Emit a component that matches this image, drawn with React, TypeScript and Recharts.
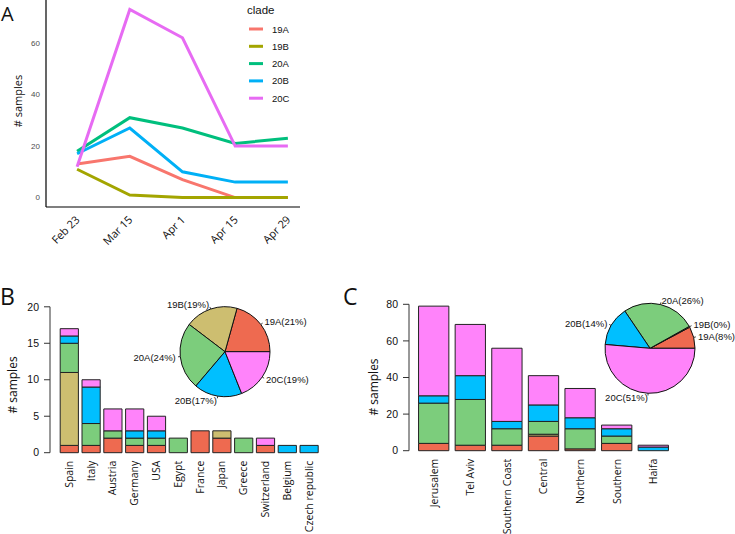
import React from 'react';
import { LineChart, Line, XAxis, YAxis, BarChart, Bar, PieChart, Pie, Cell, Label } from 'recharts';

// ---------- shared ----------
const cladeNames = ['19A', '19B', '20A', '20B', '20C'];
const lineColors = ['#F8766D', '#A3A500', '#00BF7D', '#00B0F6', '#E76BF3'];
const barColors = ['#EE6A50', '#CDBE70', '#7CCD7C', '#00BFFF', '#FF83FA'];

// ---------- panel A ----------
const timeLabels = ['Feb 23', 'Mar 15', 'Apr 1', 'Apr 15', 'Apr 29'];
const line19A = [13, 16, 7, 0, 0];
const line19B = [11, 1, 0, 0, 0];
const line20A = [18, 31, 27, 21, 23];
const line20B = [17, 27, 10, 6, 6];
const line20C = [12, 73, 62, 20, 20];
const lineTicksY = [0, 20, 40, 60];

// ---------- panel B ----------
const countries = ['Spain', 'Italy', 'Austria', 'Germany', 'USA', 'Egypt', 'France', 'Japan', 'Greece', 'Switzerland', 'Belgium', 'Czech republic'];
const country19A = [1, 1, 2, 1, 1, 0, 3, 2, 0, 1, 0, 0];
const country19B = [10, 0, 0, 0, 0, 0, 0, 1, 0, 0, 0, 0];
const country20A = [4, 3, 1, 1, 1, 2, 0, 0, 2, 0, 0, 0];
const country20B = [1, 5, 0, 1, 1, 0, 0, 0, 0, 0, 1, 1];
const country20C = [1, 1, 3, 3, 2, 0, 0, 0, 0, 1, 0, 0];
const countryTicksY = [0, 5, 10, 15, 20];

// ---------- panel C ----------
const regions = ['Jerusalem', 'Tel Aviv', 'Southern Coast', 'Central', 'Northern', 'Southern', 'Haifa'];
const region19A = [4, 3, 3, 8, 1, 4, 0];
const region19B = [0, 0, 0, 1, 0, 0, 0];
const region20A = [22, 25, 9, 7, 11, 4, 0];
const region20B = [4, 13, 4, 9, 6, 4, 2];
const region20C = [49, 28, 40, 16, 16, 2, 1];
const regionTicksY = [0, 20, 40, 60, 80];

// ---------- derived tables ----------
const lineSeries = [line19A, line19B, line20A, line20B, line20C];
const lineData = timeLabels.map((t, i) => {
  const row: any = { idx: i, label: t };
  cladeNames.forEach((c, k) => (row[c] = lineSeries[k][i]));
  return row;
});

const countrySeries = [country19A, country19B, country20A, country20B, country20C];
const countryData = countries.map((n, i) => {
  const row: any = { name: n };
  cladeNames.forEach((c, k) => (row[c] = countrySeries[k][i]));
  return row;
});
const countryPie = cladeNames.map((c, k) => ({ name: c, value: countrySeries[k].reduce((a, b) => a + b, 0) }));

const regionSeries = [region19A, region19B, region20A, region20B, region20C];
const regionData = regions.map((n, i) => {
  const row: any = { name: n };
  cladeNames.forEach((c, k) => (row[c] = regionSeries[k][i]));
  return row;
});
const regionPie = cladeNames.map((c, k) => ({ name: c, value: regionSeries[k].reduce((a, b) => a + b, 0) }));

const SANS = '"Liberation Sans", Arial, sans-serif';
const HUM = '"Open Sans", "Liberation Sans", sans-serif';

const AngledTick = (props: any) => {
  const { x, y, payload } = props;
  const ax = x - 2;
  const ay = y + 8;
  return (
    <text x={ax} y={ay} dy="0.7em" transform={`rotate(-45, ${ax}, ${ay})`} textAnchor="end" fontSize={11} fontFamily={HUM} fill="#111">
      {timeLabels[payload.value]}
    </text>
  );
};

const VerticalTick = (props: any) => {
  const { x, y, payload } = props;
  const ay = y + 8;
  return (
    <text x={x} y={ay} dy="0.35em" transform={`rotate(-90, ${x}, ${ay})`} textAnchor="end" fontSize={10.5} fontFamily={HUM} fill="#111">
      {payload.value}
    </text>
  );
};

const axisTitle = (x: number, y: number, size: number) => () => (
  <text x={x} y={y} transform={`rotate(-90, ${x}, ${y})`} textAnchor="middle" dominantBaseline="central" fontSize={size} fontFamily={HUM} fill="#111">
    # samples
  </text>
);

const RAD = Math.PI / 180;
const makePieLabel = (total: number) => (props: any) => {
  const { cx, cy, midAngle, outerRadius, value } = props;
  const name = props.name ?? props.payload?.name;
  const c = Math.cos(-midAngle * RAD);
  const s = Math.sin(-midAngle * RAD);
  const r = outerRadius;
  const pct = Math.round((value / total) * 100);
  return (
    <g>
      <line x1={cx + r * c} y1={cy + r * s} x2={cx + r * 1.05 * c} y2={cy + r * 1.05 * s} stroke="#111" strokeWidth={0.8} />
      <text x={cx + r * 1.1 * c} y={cy + r * 1.1 * s} textAnchor={c < 0 ? 'end' : 'start'} dominantBaseline="central" fontSize={9.5} fontFamily={SANS} fill="#111">
        {`${name}(${pct}%)`}
      </text>
    </g>
  );
};

const countryTotal = countryPie.reduce((a, b) => a + b.value, 0);
const regionTotal = regionPie.reduce((a, b) => a + b.value, 0);

const abs = (left: number, top: number): React.CSSProperties => ({ position: 'absolute', left, top });

export default function App() {
  return (
    <div style={{ position: 'absolute', left: 0, top: 0, width: 735, height: 534, background: '#fff', overflow: 'hidden' }}>
      {/* Panel A */}
      <div style={abs(0, 0)}>
        <LineChart width={330} height={260} data={lineData} margin={{ top: 0, right: 30, bottom: 0, left: 0 }}>
          <XAxis
            dataKey="idx"
            type="number"
            domain={[-0.59, 4.23]}
            ticks={[0, 1, 2, 3, 4]}
            allowDataOverflow
            height={53}
            interval={0}
            tick={<AngledTick />}
            tickLine={false}
            tickSize={0}
            tickMargin={0}
            axisLine={{ stroke: '#000', strokeWidth: 1.2 }}
          />
          <YAxis
            type="number"
            domain={[-3.65, 76.65]}
            ticks={lineTicksY}
            allowDataOverflow
            width={46}
            tickLine={false}
            tickSize={0}
            tickMargin={6}
            tick={{ fill: '#4d4d4d', fontSize: 8, fontFamily: SANS }}
            axisLine={{ stroke: '#000', strokeWidth: 1.2 }}
          >
            <Label content={axisTitle(17, 101, 11)} />
          </YAxis>
          {cladeNames.map((c, i) => (
            <Line key={c} type="linear" dataKey={c} stroke={lineColors[i]} strokeWidth={3} dot={false} isAnimationActive={false} />
          ))}
        </LineChart>
      </div>
      {/* Legend A */}
      <svg style={abs(0, 0)} width={330} height={110}>
        <text x={247} y={14} fontSize={11.5} fontFamily={SANS} fill="#111">clade</text>
        {cladeNames.map((c, i) => (
          <g key={c}>
            <line x1={249} x2={263} y1={29 + i * 17.3} y2={29 + i * 17.3} stroke={lineColors[i]} strokeWidth={3} />
            <text x={272} y={29 + i * 17.3} dominantBaseline="central" fontSize={9.5} fontFamily={SANS} fill="#111">{c}</text>
          </g>
        ))}
      </svg>

      {/* Panel B */}
      <div style={abs(0, 290)}>
        <BarChart width={330} height={244} data={countryData} margin={{ top: 16.8, right: 2, bottom: 0, left: 0 }} barSize={18.2}>
          <XAxis
            dataKey="name"
            height={81.3}
            padding={{ left: 8.2, right: 8.2 }}
            interval={0}
            tick={<VerticalTick />}
            tickLine={false}
            axisLine={false}
            tickSize={0}
            tickMargin={0}
          />
          <YAxis
            type="number"
            domain={[0, 20]}
            ticks={countryTicksY}
            width={50}
            tickSize={6}
            tickMargin={5}
            tick={{ fill: '#111', fontSize: 10.5, fontFamily: SANS }}
            tickLine={{ stroke: '#333' }}
            axisLine={{ stroke: '#333' }}
          >
            <Label content={axisTitle(12, 95, 12)} />
          </YAxis>
          {cladeNames.map((c, i) => (
            <Bar key={c} dataKey={c} stackId="s" fill={barColors[i]} stroke="#222" strokeWidth={1} isAnimationActive={false} />
          ))}
        </BarChart>
      </div>
      <div style={abs(120, 285)}>
        <PieChart width={210} height={135} margin={{ top: 0, right: 0, bottom: 0, left: 0 }}>
          <Pie
            data={countryPie}
            dataKey="value"
            nameKey="name"
            cx={105}
            cy={66.7}
            outerRadius={45}
            startAngle={0}
            endAngle={360}
            stroke="#111"
            strokeWidth={1}
            labelLine={false}
            label={makePieLabel(countryTotal)}
            isAnimationActive={false}
          >
            {countryPie.map((d, i) => (
              <Cell key={d.name} fill={barColors[i]} />
            ))}
          </Pie>
        </PieChart>
      </div>

      {/* Panel C */}
      <div style={abs(330, 290)}>
        <BarChart width={405} height={244} data={regionData} margin={{ top: 14.3, right: 56.7, bottom: 0, left: 0 }} barSize={30.3}>
          <XAxis
            dataKey="name"
            height={83.3}
            padding={{ left: 6.55, right: 6.55 }}
            interval={0}
            tick={<VerticalTick />}
            tickLine={false}
            axisLine={false}
            tickSize={0}
            tickMargin={0}
          />
          <YAxis
            type="number"
            domain={[0, 80]}
            ticks={regionTicksY}
            width={79}
            tickSize={6}
            tickMargin={5}
            tick={{ fill: '#111', fontSize: 10.5, fontFamily: SANS }}
            tickLine={{ stroke: '#333' }}
            axisLine={{ stroke: '#333' }}
          >
            <Label content={axisTitle(43, 97, 12)} />
          </YAxis>
          {cladeNames.map((c, i) => (
            <Bar key={c} dataKey={c} stackId="s" fill={barColors[i]} stroke="#222" strokeWidth={1} isAnimationActive={false} />
          ))}
        </BarChart>
      </div>
      <div style={abs(555, 285)}>
        <PieChart width={180} height={125} margin={{ top: 0, right: 0, bottom: 0, left: 0 }}>
          <Pie
            data={regionPie}
            dataKey="value"
            nameKey="name"
            cx={95}
            cy={63.3}
            outerRadius={45}
            startAngle={0}
            endAngle={360}
            stroke="#111"
            strokeWidth={1}
            labelLine={false}
            label={makePieLabel(regionTotal)}
            isAnimationActive={false}
          >
            {regionPie.map((d, i) => (
              <Cell key={d.name} fill={barColors[i]} />
            ))}
          </Pie>
        </PieChart>
      </div>

      {/* Panel letters */}
      <svg style={abs(0, 0)} width={735} height={534} pointerEvents="none">
        <text x={1} y={21} fontSize={20} fontFamily={HUM} fill="#111">A</text>
        <text x={0} y={305} fontSize={23} fontFamily={HUM} fill="#111">B</text>
        <text x={343} y={305} fontSize={23} fontFamily={HUM} fill="#111">C</text>
      </svg>
    </div>
  );
}
